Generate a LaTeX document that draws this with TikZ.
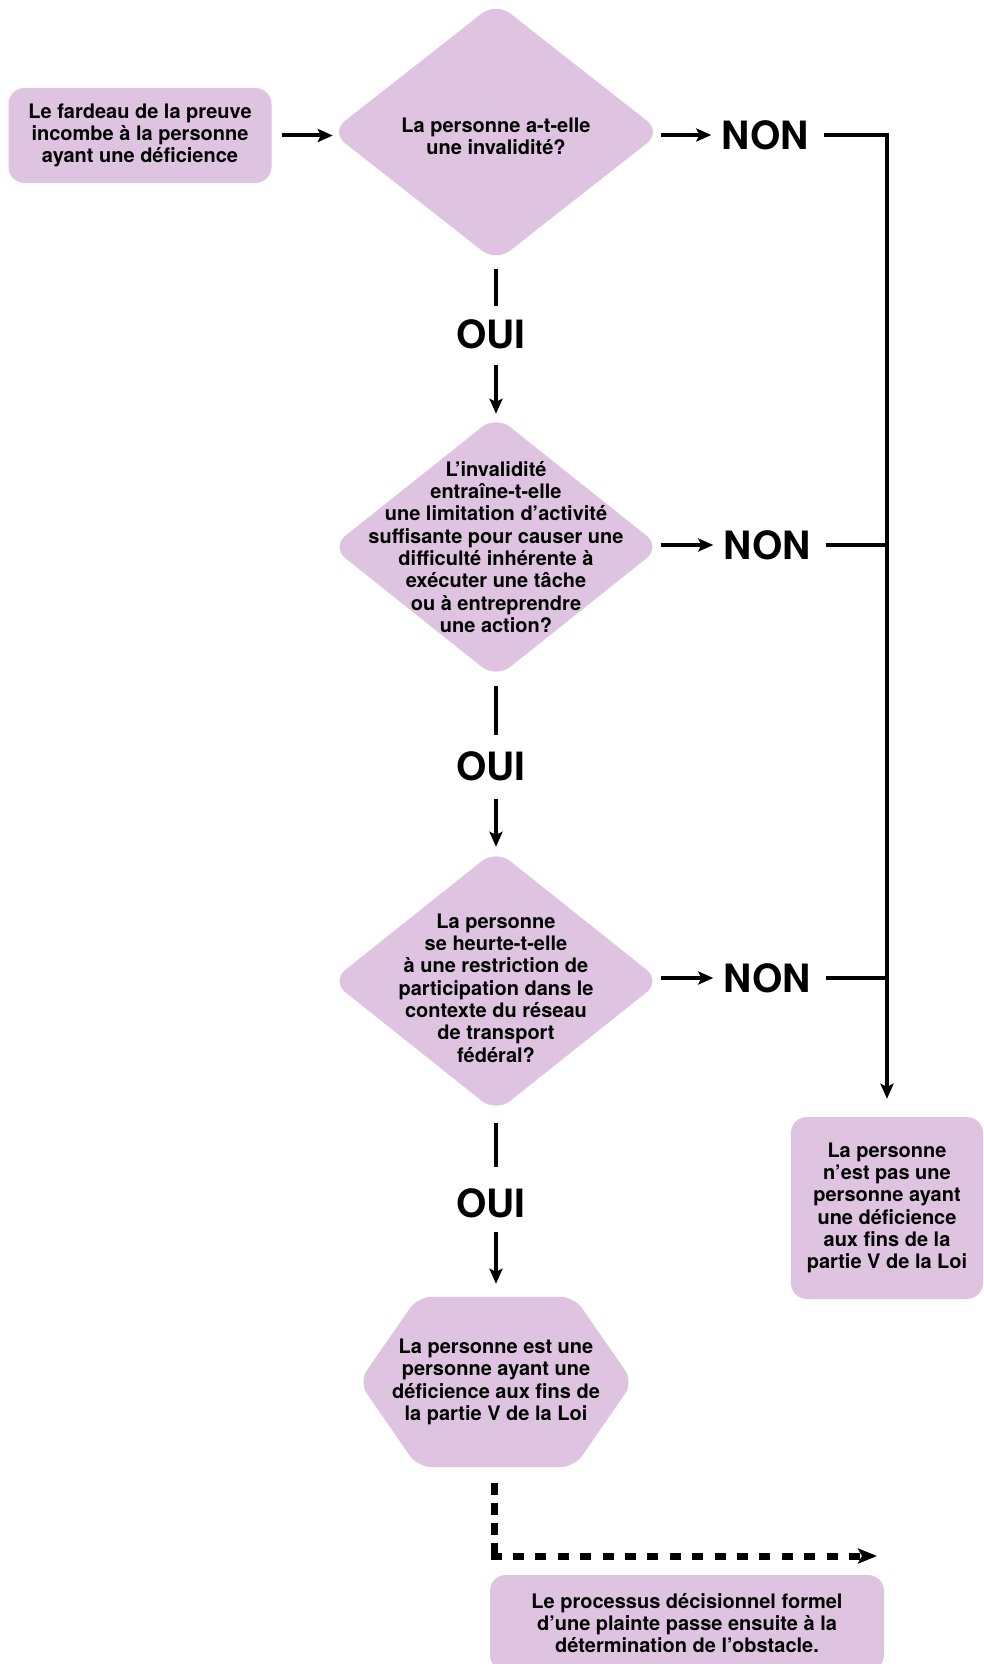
\documentclass[tikz,border=0pt]{standalone}
\usepackage{fontspec}
\setmainfont{TeX Gyre Heros}
\usetikzlibrary{arrows.meta,backgrounds}
\definecolor{lav}{RGB}{222,196,224}
\begin{document}
\begin{tikzpicture}[x=1pt,y=-1pt,
  txt/.style={font=\fontsize{20}{22.3}\selectfont\bfseries, align=center, inner sep=0pt},
  boxn/.style={txt, fill=lav, rounded corners=16pt},
  big/.style={font=\fontsize{39}{40}\selectfont\bfseries, inner sep=0pt},
  ln/.style={line width=4pt},
  arr/.style={line width=4pt, -{Stealth[length=15pt,width=13pt,inset=3pt]}},
  dshv/.style={line width=7pt, dash pattern=on 12pt off 8pt},
  dshh/.style={line width=7pt, dash pattern=on 11pt off 11.4pt, -{Stealth[length=19pt,width=15pt,inset=4pt]}},
  diafill/.style={fill=lav, rounded corners=18pt},
  dshape/.style={inner sep=0pt, minimum width=311pt, minimum height=250pt},
]
\useasboundingbox (0,0) rectangle (984,1664);

\node[boxn, minimum width=263pt, minimum height=95pt] (start) at (140,135.5)
  {Le fardeau de la preuve\\incombe à la personne\\ayant une déficience};

\node[dshape, minimum width=312pt, minimum height=247pt] (d1) at (496,132) {};
\node[txt] (d1t) at ([yshift=-4pt]d1.center) {La personne a-t-elle\\une invalidité?};

\node[dshape] (d2) at (496,547) {};
\node[txt] (d2t) at (d2.center) {L’invalidité\\entraîne-t-elle\\une limitation d’activité\\suffisante pour causer une\\difficulté inhérente à\\exécuter une tâche\\ou à entreprendre\\une action?};

\node[dshape] (d3) at (496,981) {};
\node[txt] (d3t) at ([yshift=-7pt]d3.center) {La personne\\se heurte-t-elle\\à une restriction de\\participation dans le\\contexte du réseau\\de transport\\fédéral?};

\node[txt, minimum width=274pt, minimum height=170pt] (hx) at (496,1382)
  {La personne est une\\personne ayant une\\déficience aux fins de\\la partie V de la Loi};
\node[boxn, minimum width=192pt, minimum height=182pt] (rb) at (887,1208)
  {La personne\\n’est pas une\\personne ayant\\une déficience\\aux fins de la\\partie V de la Loi};
\node[boxn, minimum width=394pt, minimum height=96pt] (fin) at (687,1623)
  {Le processus décisionnel formel\\d’une plainte passe ensuite à la\\détermination de l’obstacle.};

\node[big] (n1) at (765,135) {NON};
\node[big] (n2) at (767,545) {NON};
\node[big] (n3) at (767,978) {NON};
\node[big] (o1) at (491,334) {OUI};
\node[big] (o2) at (491,766) {OUI};
\node[big] (o3) at (491,1203) {OUI};

\begin{scope}[on background layer]
\foreach \d in {d1,d2,d3}{
  \fill[diafill] ([yshift=6pt]\d.north) -- ([xshift=9pt]\d.east) -- ([yshift=-6pt]\d.south) -- ([xshift=-9pt]\d.west) -- cycle;
}
\fill[lav, rounded corners=14pt] ([xshift=59pt]hx.north west) -- ([xshift=-59pt]hx.north east) -- (hx.east)
  -- ([xshift=-59pt]hx.south east) -- ([xshift=59pt]hx.south west) -- (hx.west) -- cycle;
\end{scope}

\draw[arr, shorten <=10pt, shorten >=7pt] (start.east) -- (start.east -| d1.west);

\draw[arr, shorten <=9pt, shorten >=10pt] (d1.east |- n1.west) -- (n1.west);
\draw[arr, shorten <=9pt, shorten >=10pt] (d2.east |- n2.west) -- (n2.west);
\draw[arr, shorten <=9pt, shorten >=10pt] (d3.east |- n3.west) -- (n3.west);

\draw[arr, shorten <=15pt, shorten >=18pt] (n1.east) -- (n1.east -| rb.north) -- (rb.north);
\draw[ln, shorten <=15pt] (n2.east) -- (n2.east -| rb.north);
\draw[ln, shorten <=15pt] (n3.east) -- (n3.east -| rb.north);

\draw[ln, shorten <=13pt, shorten >=13pt] (d1.south) -- (d1.south |- o1.north);
\draw[arr, shorten <=16pt, shorten >=8pt] (d1.south |- o1.south) -- (d2.north);
\draw[ln, shorten <=14pt, shorten >=16pt] (d2.south) -- (d2.south |- o2.north);
\draw[arr, shorten <=18pt, shorten >=9pt] (d2.south |- o2.south) -- (d3.north);
\draw[ln, shorten <=17pt, shorten >=21pt] (d3.south) -- (d3.south |- o3.north);
\draw[arr, shorten <=14pt, shorten >=13pt] (d3.south |- o3.south) -- (hx.north);

\coordinate (dtop) at (494,1483);
\coordinate (dcorner) at (494,1559.5);
\coordinate (dcornerh) at (490.5,1556);
\coordinate (dend) at (877,1556);
\draw[dshv] (dtop) -- (dcorner);
\draw[dshh] (dcornerh) -- (dend);
\end{tikzpicture}
\end{document}
